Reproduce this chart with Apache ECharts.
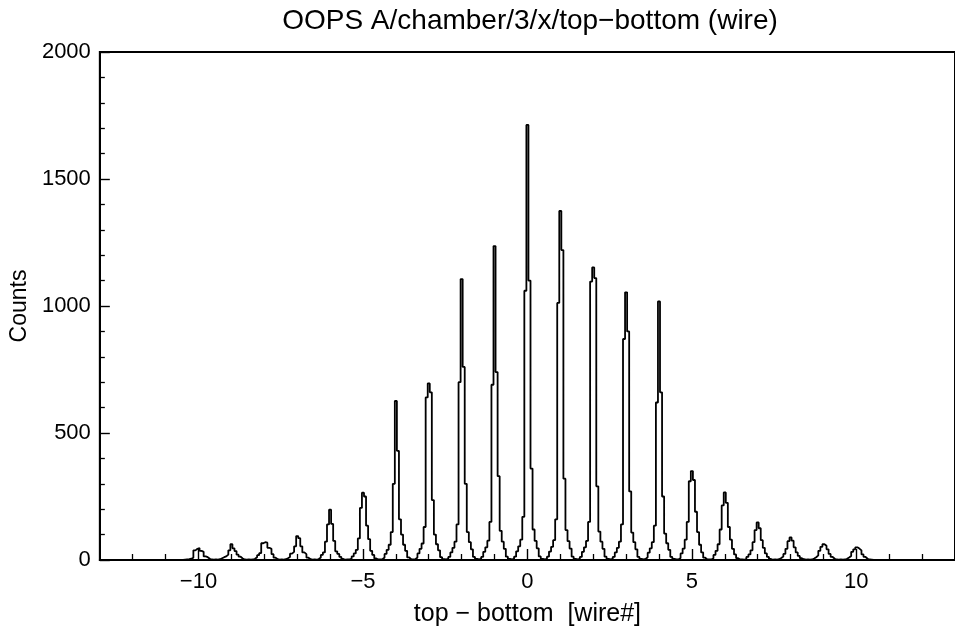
<!DOCTYPE html>
<html><head><meta charset="utf-8">
<script src="https://cdn.jsdelivr.net/npm/echarts@6/dist/echarts.min.js"></script>
<style>html,body{margin:0;padding:0;background:#fff}#c{width:955px;height:641px}</style>
</head><body><div id="c"></div>
<script>
// histogram binning (bin width 1/16 wire, bins centred on multiples of 1/16)
const binsPerUnit = 16;
const xMin = -13, xMax = 13;
// peak positions (wire #) and their bin contents, offsets -7..+7 bins around the centre
const peakCenters = [-10, -9, -8, -7, -6, -5, -4, -3, -2, -1, 0, 1, 2, 3, 4, 5, 6, 7, 8, 9, 10];
const peakM10 = [1, 2, 3, 5, 9, 38, 44, 47, 36, 32, 14, 11, 5, 2, 1];
const peakM9  = [1, 3, 7, 11, 14, 21, 38, 62, 46, 35, 21, 13, 6, 2, 1];
const peakM8  = [1, 2, 5, 11, 19, 27, 66, 70, 68, 48, 44, 23, 9, 3, 1];
const peakM7  = [1, 3, 7, 12, 25, 32, 54, 94, 86, 54, 30, 23, 9, 3, 1];
const peakM6  = [1, 4, 10, 20, 30, 72, 140, 198, 142, 75, 34, 24, 12, 4, 1];
const peakM5  = [2, 6, 14, 26, 40, 85, 205, 265, 250, 135, 82, 36, 20, 6, 2];
const peakM4  = [3, 10, 24, 40, 60, 110, 300, 626, 430, 160, 100, 60, 36, 10, 3];
const peakM3  = [3, 10, 26, 44, 65, 130, 640, 695, 660, 236, 100, 62, 38, 11, 3];
const peakM2  = [4, 12, 30, 48, 72, 140, 700, 1106, 760, 300, 110, 70, 42, 12, 4];
const peakM1  = [4, 12, 32, 50, 76, 150, 690, 1236, 740, 330, 115, 72, 44, 13, 4];
const peak0   = [4, 13, 34, 54, 80, 170, 1060, 1713, 1100, 360, 120, 75, 46, 14, 4];
const peakP1  = [4, 13, 33, 52, 78, 160, 1012, 1374, 1220, 320, 118, 74, 45, 13, 4];
const peakP2  = [4, 12, 32, 50, 75, 150, 1096, 1152, 1110, 290, 112, 72, 44, 13, 4];
const peakP3  = [4, 12, 30, 48, 72, 140, 870, 1054, 900, 270, 108, 70, 42, 12, 4];
const peakP4  = [4, 11, 29, 46, 70, 135, 620, 1018, 660, 250, 104, 66, 40, 12, 4];
const peakP5  = [2, 8, 26, 45, 80, 150, 310, 350, 315, 190, 110, 60, 30, 9, 2];
const peakP6  = [2, 7, 20, 36, 62, 120, 215, 266, 225, 130, 80, 44, 22, 7, 2];
const peakP7  = [1, 4, 12, 22, 38, 70, 118, 148, 125, 78, 48, 26, 12, 4, 1];
const peakP8  = [1, 3, 8, 14, 24, 44, 74, 89, 76, 50, 30, 16, 7, 3, 1];
const peakP9  = [1, 2, 6, 11, 18, 36, 52, 62, 56, 42, 24, 12, 5, 2, 1];
const peakP10 = [1, 2, 5, 10, 16, 32, 42, 50, 45, 38, 22, 12, 5, 2, 1];
// content of the bin half-way between neighbouring peaks
const gapValues = [2];
const xMajorTicks = [-10, -5, 0, 5, 10];
const xMinorTicks = [-12, -11, -9, -8, -7, -6, -4, -3, -2, -1, 1, 2, 3, 4, 6, 7, 8, 9, 11, 12];

const peakProfiles = [peakM10, peakM9, peakM8, peakM7, peakM6, peakM5, peakM4, peakM3, peakM2, peakM1,
  peak0, peakP1, peakP2, peakP3, peakP4, peakP5, peakP6, peakP7, peakP8, peakP9, peakP10];

const iMin = -207, iMax = 207;
const counts = {};
for (let i = iMin; i <= iMax; i++) counts[i] = 0;
peakCenters.forEach((c, k) => {
  const prof = peakProfiles[k];
  for (let j = 0; j < prof.length; j++) counts[c * binsPerUnit + j - 7] = prof[j];
  if (k < peakCenters.length - 1) {
    for (let g = 0; g < gapValues.length; g++) counts[c * binsPerUnit + 8 + g] = gapValues[g];
  }
});
const data = [];
for (let i = iMin; i <= iMax; i++) data.push([(i - 0.5) / binsPerUnit, counts[i]]);
data.push([(iMax + 0.5) / binsPerUnit, counts[iMax]]);

const FONT = 'Liberation Sans, Arial, Helvetica, sans-serif';
const minus = v => String(v).replace('-', '\u2212');

const chart = echarts.init(document.getElementById('c'), null, {renderer: 'canvas'});
chart.setOption({
  animation: false,
  backgroundColor: '#fff',
  graphic: [{
    type: 'text', x: 530, y: 21,
    style: {text: 'OOPS A/chamber/3/x/top\u2212bottom (wire)', font: '28px ' + FONT, fill: '#000',
      textAlign: 'center', textVerticalAlign: 'middle'}
  }],
  grid: {left: 97, right: -9, top: 52, bottom: 81, show: true, borderColor: '#000', borderWidth: 2,
    backgroundColor: 'transparent', containLabel: false},
  xAxis: [{
    type: 'value', min: xMin, max: xMax,
    name: 'top \u2212 bottom  [wire#]', nameLocation: 'middle', nameGap: 42,
    nameTextStyle: {fontFamily: FONT, fontSize: 25, color: '#000'},
    axisLine: {show: true, onZero: false, lineStyle: {color: '#000', width: 2}},
    axisTick: {show: true, inside: true, length: 11, customValues: xMajorTicks, lineStyle: {color: '#000', width: 1.4}},
    axisLabel: {customValues: xMajorTicks, formatter: minus, fontFamily: FONT, fontSize: 22, color: '#000', margin: 11},
    splitLine: {show: false}
  }, {
    type: 'value', min: xMin, max: xMax, position: 'bottom',
    axisLine: {show: false, onZero: false},
    axisTick: {show: true, inside: true, length: 6, customValues: xMinorTicks, lineStyle: {color: '#000', width: 1.3}},
    axisLabel: {show: false},
    splitLine: {show: false}
  }],
  yAxis: {
    type: 'value', min: 0, max: 2000, interval: 500,
    name: 'Counts', nameLocation: 'middle', nameGap: 55,
    nameTextStyle: {fontFamily: FONT, fontSize: 23, color: '#000'},
    axisLine: {show: true, onZero: false, lineStyle: {color: '#000', width: 2}},
    axisTick: {show: true, inside: true, length: 10, lineStyle: {color: '#000', width: 1.4}},
    minorTick: {show: true, splitNumber: 5, length: 5, lineStyle: {color: '#000', width: 1.3}},
    axisLabel: {fontFamily: FONT, fontSize: 22, color: '#000', margin: 9, formatter: v => String(v)},
    splitLine: {show: false}
  },
  series: [{
    type: 'line', xAxisIndex: 0, data: data, step: 'end', showSymbol: false, symbol: 'none',
    sampling: null, clip: true,
    lineStyle: {color: '#000', width: 1.8}
  }]
});
</script></body></html>
